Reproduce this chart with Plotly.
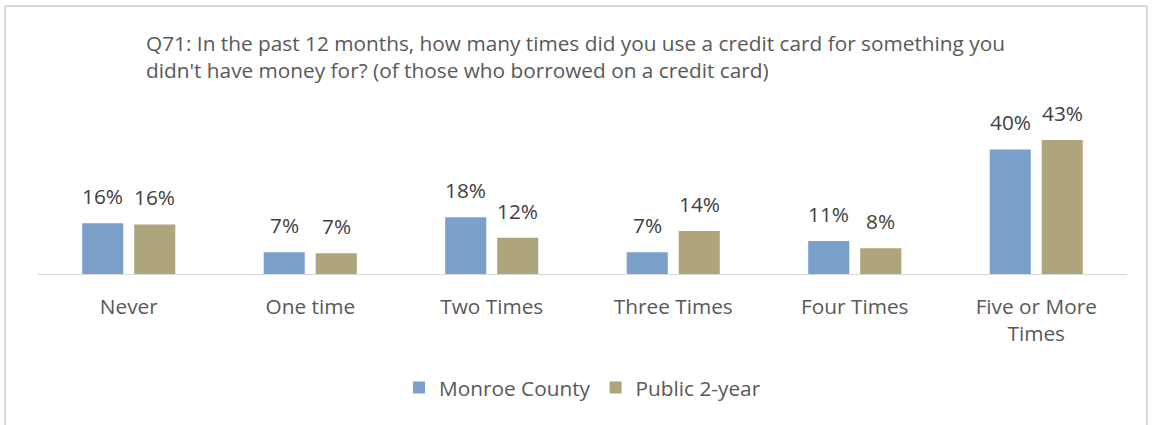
import plotly.graph_objects as go

categories = ["Never", "One time", "Two Times", "Three Times", "Four Times", "Five or More<br>Times"]
monroe = [16.3, 7.0, 18.2, 7.0, 10.6, 40.0]
public2 = [15.9, 6.7, 11.6, 13.8, 8.3, 43.0]
series_names = ["Monroe County", "Public 2-year"]
title_text = ("Q71: In the past 12 months, how many times did you use a credit card for something you<br>"
              "didn't have money for? (of those who borrowed on a credit card)")

FONT = "Open Sans"
FS = 20.8
W, H = 1156, 425
ml, mr, mt, mb = 38, W - 1127, 130, H - 274
colors = ["#7BA1CB", "#AEA57D"]

fig = go.Figure()
for name, vals, col in [(series_names[0], monroe, colors[0]), (series_names[1], public2, colors[1])]:
    fig.add_trace(go.Bar(
        x=categories, y=vals, name=name,
        marker=dict(color=col, line=dict(width=0)),
    ))

slot = (W - ml - mr) / len(categories) * (1 - 0.427) / 2
for vals, sgn in [(monroe, -1), (public2, 1)]:
    for c, v in zip(categories, vals):
        fig.add_annotation(x=c, y=v, xshift=sgn * slot / 2, yshift=11, yanchor="bottom",
                           text=f"{v:.0f}%", showarrow=False,
                           font=dict(family=FONT, size=FS, color="#404040"))

pw, ph = W - ml - mr, H - mt - mb
bx0, bx1 = (5 - ml) / pw, (1147 - ml) / pw
by_top, by_bot = 1 + (mt - 6) / ph, -(H + 10 - (H - mb)) / ph
border = dict(color="#D9D9D9", width=2)

fig.update_layout(
    width=W, height=H,
    margin=dict(l=ml, r=mr, t=mt, b=mb),
    paper_bgcolor="white", plot_bgcolor="white",
    barmode="group", bargap=0.427, bargroupgap=0.21,
    title=dict(text=title_text, xref="container", x=146 / W, xanchor="left",
               yref="container", y=1 - 51 / H, yanchor="middle",
               font=dict(family=FONT, size=FS, color="#595959")),
    font=dict(family=FONT, color="#595959"),
    xaxis=dict(showline=True, linecolor="#D9D9D9", linewidth=1, ticks="",
               tickfont=dict(family=FONT, size=FS, color="#595959"),
               showgrid=False, ticklabelstandoff=14),
    yaxis=dict(range=[0, ph / 3.115], visible=False, showgrid=False, zeroline=False),
    legend=dict(orientation="h", x=0.5, xanchor="center", yref="container", y=1 - 388 / H,
                yanchor="middle", font=dict(family=FONT, size=FS, color="#595959"),
                itemwidth=30, traceorder="normal"),
    showlegend=True,
    shapes=[
        dict(type="line", xref="paper", yref="paper", x0=bx0, x1=bx1, y0=by_top, y1=by_top, line=border),
        dict(type="line", xref="paper", yref="paper", x0=bx0, x1=bx0, y0=by_bot, y1=by_top, line=border),
        dict(type="line", xref="paper", yref="paper", x0=bx1, x1=bx1, y0=by_bot, y1=by_top, line=border),
    ],
)

fig.write_html("out.html", config={"displayModeBar": False},
               post_script="document.body.style.margin='0';")
